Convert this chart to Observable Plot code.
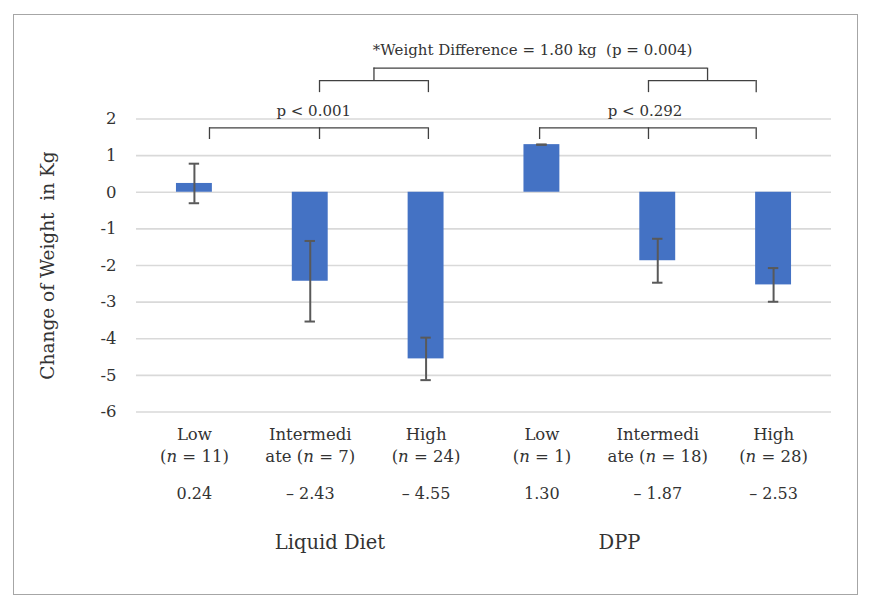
<!DOCTYPE html>
<html><head><meta charset="utf-8">
<script src="https://cdn.jsdelivr.net/npm/d3@7"></script>
<script src="https://cdn.jsdelivr.net/npm/@observablehq/plot@0.6"></script>
<style>
body{margin:0;background:#fff;}
#wrap{position:relative;width:872px;height:609px;overflow:hidden;}
#frame{position:absolute;left:13px;top:14px;width:845px;height:581px;border:1.5px solid #a6a6a6;box-sizing:border-box;pointer-events:none;}
#chart{position:absolute;left:0;top:0;}
</style></head><body>
<div id="wrap"><div id="chart"></div><div id="frame"></div></div>
<script>
// ---- data ----
const categoryLabels = ["Low\n(n = 11)", "Intermedi\nate (n = 7)", "High\n(n = 24)", "Low\n(n = 1)", "Intermedi\nate (n = 18)", "High\n(n = 28)"];
const groups = ["Liquid Diet", "DPP"];
const groupCenters = [1.17, 3.67];
const means = [0.24, -2.43, -4.55, 1.30, -1.87, -2.53];
const errors = [0.54, 1.10, 0.58, 0.0, 0.60, 0.46];
const meanLabels = ["0.24", "\u2013 2.43", "\u2013 4.55", "1.30", "\u2013 1.87", "\u2013 2.53"];
const yTicks = [-6, -5, -4, -3, -2, -1, 0, 1, 2];
// significance brackets (x in category index units, y in kg units)
const bracketSpans = [[0.13, 2.02], [2.98, 4.85], [1.08, 2.02], [3.92, 4.85], [1.55, 4.43]];
const bracketLevels = [1.76, 1.76, 3.05, 3.05, 3.39];
const bracketDrops = [1.44, 1.44, 2.72, 2.72, 3.05];
const bracketTicks = [[0.13, 1.08, 2.02], [2.98, 3.92, 4.85], [1.08, 2.02], [3.92, 4.85], [1.55, 4.43]];
const annotations = ["p < 0.001", "p < 0.292", "*Weight Difference = 1.80 kg  (p = 0.004)"];
const annotationX = [1.03, 3.89, 2.92];
const annotationY = [2.21, 2.21, 3.87];

// ---- build tables ----
const bars = means.map((m, i) => ({i, mean: m, err: errors[i], label: categoryLabels[i], valueLabel: meanLabels[i]}));
const hLines = bracketSpans.map((s, k) => ({x1: s[0], x2: s[1], y: bracketLevels[k]}));
const vLines = bracketTicks.flatMap((t, k) => t.map(x => ({x, y1: bracketDrops[k], y2: bracketLevels[k]})));
const notes = annotations.map((t, k) => ({t, x: annotationX[k], y: annotationY[k]}));
const groupRows = groups.map((g, k) => ({g, x: groupCenters[k]}));

const font = "DejaVu Serif";
const ink = "#333";
const hw = 0.155, cap = 0.045;

const chart = Plot.plot({
  width: 872, height: 609,
  marginLeft: 136, marginRight: 41, marginTop: 118.5, marginBottom: 197.5,
  style: {fontFamily: font, fontSize: "16px", color: ink, background: "transparent"},
  x: {domain: [-0.5, 5.5], axis: null},
  y: {domain: [-6, 2], ticks: yTicks, label: null},
  marks: [
    Plot.gridY(yTicks, {stroke: "#d9d9d9", strokeWidth: 1.6, strokeOpacity: 1}),
    Plot.axisY(yTicks, {tickSize: 0, tickPadding: 20, fontSize: 16.5, fontFamily: font, tickFormat: d => String(d), label: null, fill: ink}),
    Plot.rectY(bars, {x1: d => d.i - hw, x2: d => d.i + hw, y1: 0, y2: "mean", fill: "#4472c4"}),
    Plot.ruleX(bars, {x: "i", y1: d => d.mean - d.err, y2: d => d.mean + d.err, stroke: "#595959", strokeWidth: 2}),
    Plot.ruleY(bars, {y: d => d.mean + d.err, x1: d => d.i - cap, x2: d => d.i + cap, stroke: "#595959", strokeWidth: 2}),
    Plot.ruleY(bars, {y: d => d.mean - d.err, x1: d => d.i - cap, x2: d => d.i + cap, stroke: "#595959", strokeWidth: 2}),
    Plot.ruleY(hLines, {y: "y", x1: "x1", x2: "x2", stroke: "#404040", strokeWidth: 1.3}),
    Plot.ruleX(vLines, {x: "x", y1: "y1", y2: "y2", stroke: "#404040", strokeWidth: 1.3}),
    Plot.text(notes, {x: "x", y: "y", text: "t", fontSize: 15, fontFamily: font, fill: ink}),
    Plot.text(bars, {x: "i", y: -6.88, text: "label", fontSize: 16.5, fontFamily: font, fill: ink, lineHeight: 1.3}),
    Plot.text(bars, {x: "i", y: -8.23, text: "valueLabel", fontSize: 16, fontFamily: font, fill: ink}),
    Plot.text(groupRows, {x: "x", y: -9.57, text: "g", fontSize: 19.5, fontFamily: font, fill: ink}),
    Plot.text(["Change of Weight  in Kg"], {frameAnchor: "left", textAnchor: "middle", dx: -88, rotate: -90, text: d => d, fontSize: 18.5, fontFamily: font, fill: ink})
  ]
});
document.getElementById("chart").appendChild(chart);
// italicize the "n" in sample sizes
chart.querySelectorAll("tspan, text").forEach(el => {
  if (el.children.length === 0 && el.textContent.includes("(n =")) {
    const parts = el.textContent.split("(n =");
    el.textContent = "";
    el.appendChild(document.createTextNode(parts[0] + "("));
    const it = document.createElementNS("http://www.w3.org/2000/svg", "tspan");
    it.setAttribute("font-style", "italic");
    it.textContent = "n";
    el.appendChild(it);
    el.appendChild(document.createTextNode(" =" + parts[1]));
  }
});
</script>
</body></html>
